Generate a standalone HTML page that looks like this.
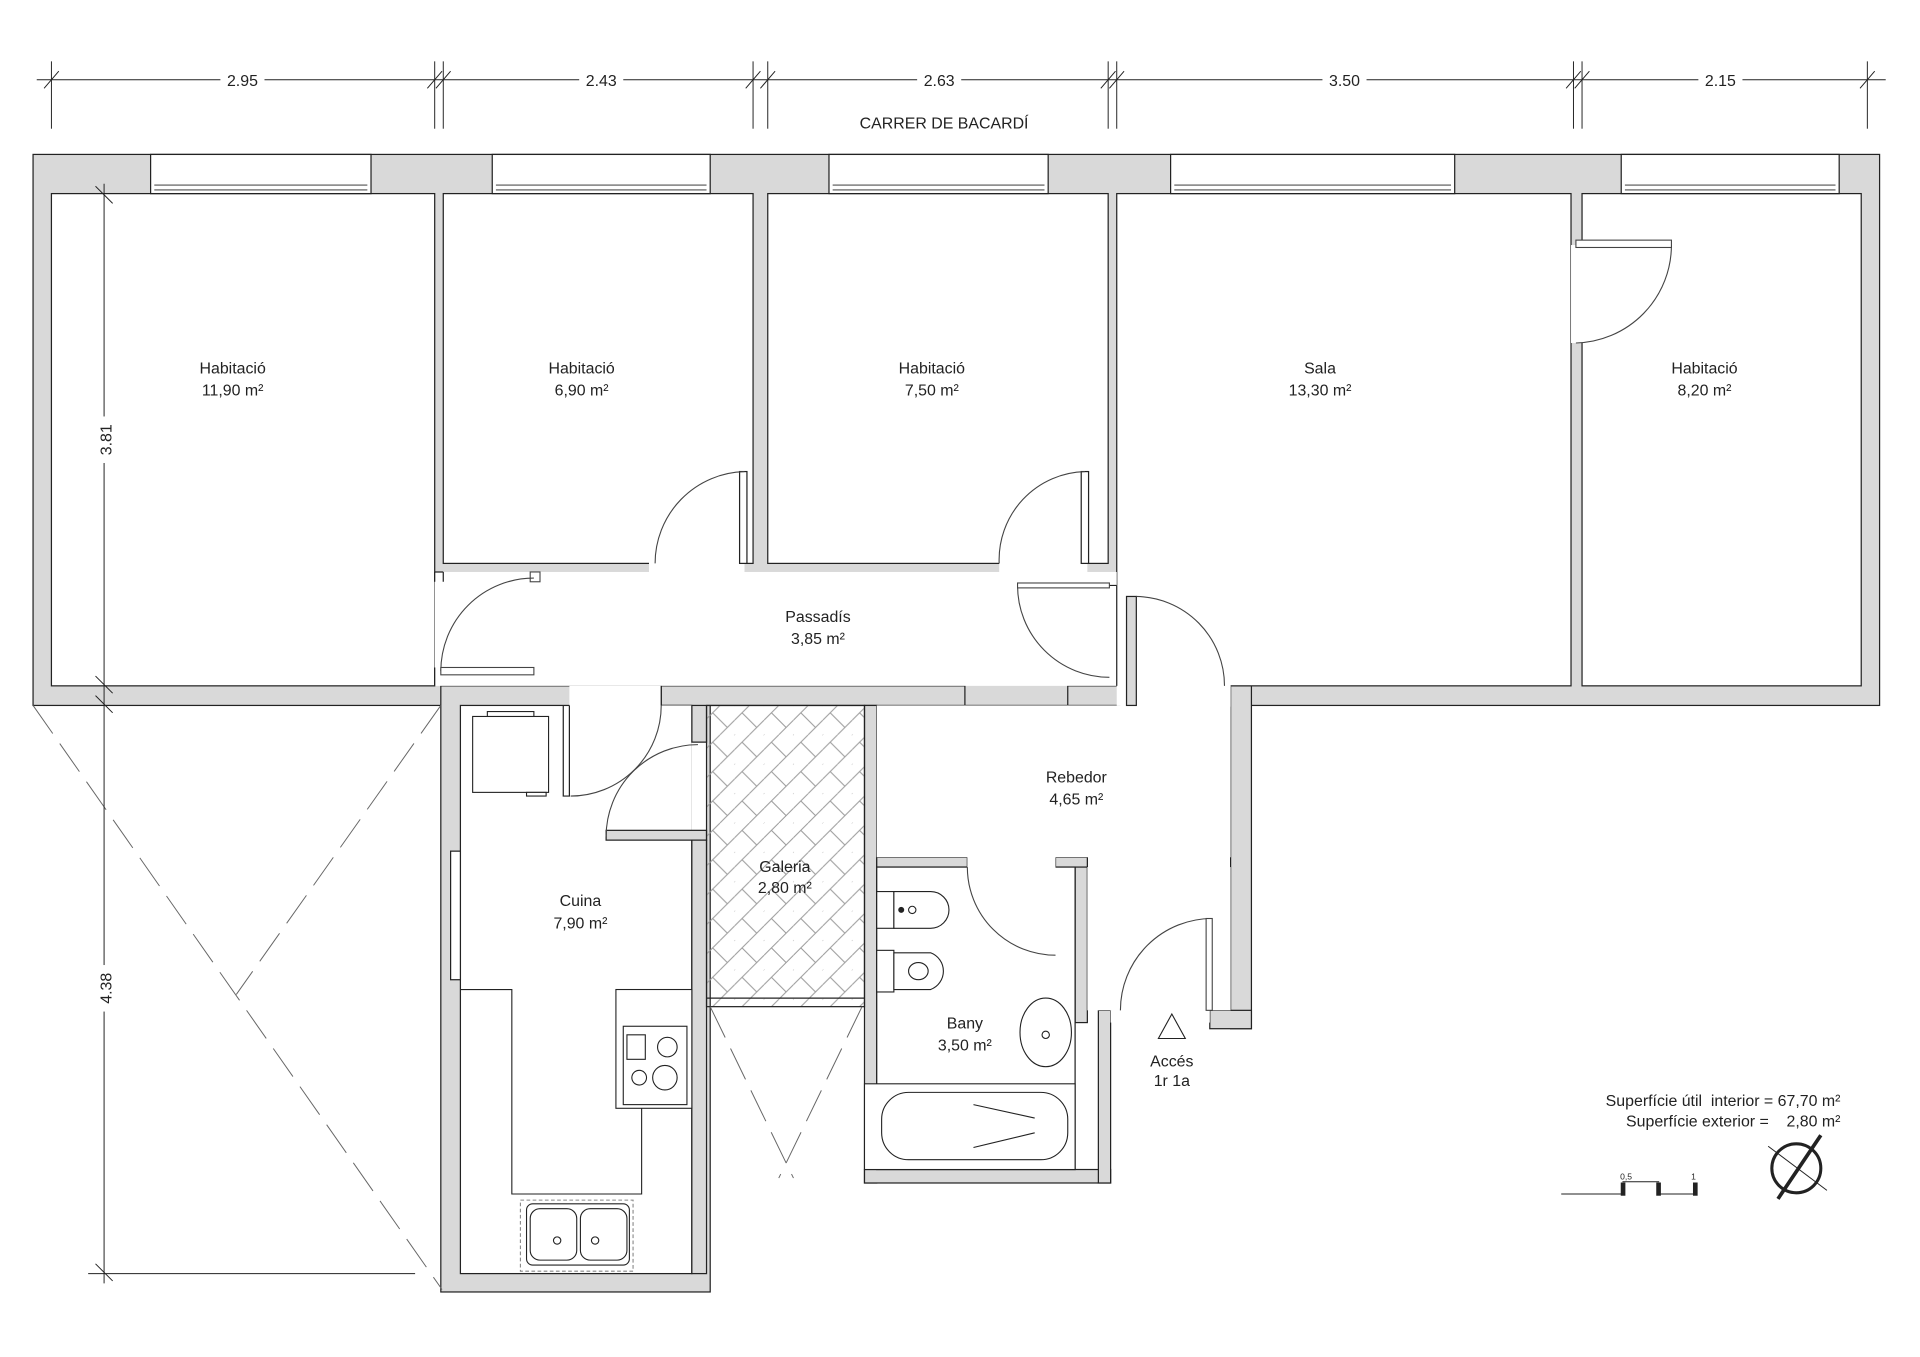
<!DOCTYPE html>
<html><head><meta charset="utf-8"><style>
html,body{margin:0;padding:0;background:#fff}
svg{display:block}
text{font-family:"Liberation Sans",sans-serif;fill:#222}
</style></head><body>
<svg width="1920" height="1357" viewBox="0 0 1568 1108" xmlns="http://www.w3.org/2000/svg">
<defs>
<pattern id="hb" width="24" height="24" patternUnits="userSpaceOnUse">
<path d="M0 12 L12 0 M12 24 L24 12 M6 6 L18 18 M-6 18 L6 30 M18 -6 L30 6" stroke="#999" stroke-width="0.8" fill="none"/>
</pattern>
</defs>
<g stroke="#222" stroke-width="1" font-size="13">
<line x1="30" y1="65" x2="1540" y2="65" stroke-width="0.8"/>
<g stroke-width="0.8">
<line x1="42" y1="50" x2="42" y2="105"/><line x1="355" y1="50" x2="355" y2="105"/><line x1="362" y1="50" x2="362" y2="105"/>
<line x1="615" y1="50" x2="615" y2="105"/><line x1="627" y1="50" x2="627" y2="105"/><line x1="905" y1="50" x2="905" y2="105"/>
<line x1="912" y1="50" x2="912" y2="105"/><line x1="1285" y1="50" x2="1285" y2="105"/><line x1="1292" y1="50" x2="1292" y2="105"/><line x1="1525" y1="50" x2="1525" y2="105"/>
<path d="M36 72 L48 58 M349 72 L361 58 M356 72 L368 58 M609 72 L621 58 M621 72 L633 58 M899 72 L911 58 M906 72 L918 58 M1279 72 L1291 58 M1286 72 L1298 58 M1519 72 L1531 58"/>
</g>
</g>
<g font-size="13" text-anchor="middle">
<rect x="180" y="58" width="36" height="14" fill="#fff"/><text x="198" y="70">2.95</text>
<rect x="473" y="58" width="36" height="14" fill="#fff"/><text x="491" y="70">2.43</text>
<rect x="749" y="58" width="36" height="14" fill="#fff"/><text x="767" y="70">2.63</text>
<rect x="1080" y="58" width="36" height="14" fill="#fff"/><text x="1098" y="70">3.50</text>
<rect x="1387" y="58" width="36" height="14" fill="#fff"/><text x="1405" y="70">2.15</text>
<text x="771" y="105">CARRER DE BACARDÍ</text>
</g>
<g fill="#d9d9d9" stroke="#222" stroke-width="1">
<rect x="27" y="126" width="1508" height="450"/>
<rect x="360" y="560" width="220" height="495"/>
<rect x="540" y="560" width="248" height="16"/>
<rect x="706" y="576" width="10" height="390"/>
<rect x="706" y="955" width="201" height="11"/>
<rect x="878" y="700" width="10" height="135"/>
<rect x="897" y="825" width="10" height="141"/>
<rect x="1005" y="560" width="17" height="280"/>
<rect x="988" y="825" width="34" height="15"/>
<rect x="716" y="700" width="74" height="8"/>
<rect x="862" y="700" width="26" height="8"/>
<rect x="872" y="560" width="48" height="16"/>
</g>
<g fill="#fff" stroke="#222" stroke-width="1">
<rect x="42" y="158" width="313" height="402"/>
<rect x="362" y="158" width="253" height="302"/>
<rect x="627" y="158" width="278" height="302"/>
<rect x="912" y="158" width="371" height="402"/>
<rect x="1292" y="158" width="228" height="402"/>
<rect x="376" y="576" width="189" height="464"/>
<rect x="716" y="708" width="162" height="247"/>
</g>
<g fill="#fff" stroke="none">
<rect x="355" y="467" width="557" height="93"/>
<rect x="355" y="475" width="8" height="70"/>
<rect x="912" y="478" width="93" height="98"/>
<rect x="465" y="560" width="75" height="17"/>
<rect x="466" y="576" width="99" height="102"/>
<rect x="565" y="606" width="12" height="72"/>
<rect x="716" y="576" width="289" height="124"/>
<rect x="790" y="699" width="72" height="10"/>
<rect x="888" y="708" width="117" height="117"/>
<rect x="907" y="825" width="81" height="10"/>
<rect x="1283" y="200" width="10" height="80"/>
<rect x="530" y="459" width="78" height="9"/>
<rect x="816" y="459" width="72" height="9"/>
<rect x="915" y="560" width="90" height="17"/>
</g>
<g stroke="#222" stroke-width="1" fill="none">
<path d="M355 467 H362 M355 467 V475 M355 545 V560 M362 467 V475"/>
<path d="M465 576 V650 H460 V576 M540 560 V576 M565 576 V606 H577 V576"/>
<rect x="495" y="678" width="82" height="8" fill="#d9d9d9"/>
<rect x="565" y="686" width="12" height="354" fill="#d9d9d9"/>
<path d="M912 478 V560 M905 478 H912"/>
<rect x="920" y="487" width="8" height="89" fill="#d9d9d9"/>
<rect x="604" y="385" width="6" height="75" fill="#fff"/>
<rect x="883" y="385" width="6" height="75" fill="#fff"/>
</g>
<g fill="#fff" stroke="#222" stroke-width="1">
<rect x="123" y="126" width="180" height="32"/><rect x="402" y="126" width="178" height="32"/>
<rect x="677" y="126" width="179" height="32"/><rect x="956" y="126" width="232" height="32"/>
<rect x="1324" y="126" width="178" height="32"/>
<path d="M126 151 H300 M126 155 H300 M405 151 H577 M405 155 H577 M680 151 H853 M680 155 H853 M959 151 H1185 M959 155 H1185 M1327 151 H1499 M1327 155 H1499" stroke-width="0.7"/>
<rect x="368" y="695" width="8" height="105"/>
</g>
<rect x="577" y="576" width="129" height="246" fill="url(#hb)" stroke="#222"/>
<line x1="577" y1="815" x2="706" y2="815" stroke="#222"/>
<g stroke="#444" stroke-width="0.9" fill="none">
<path d="M608 385 A75 75 0 0 0 535 460"/>
<path d="M886 385 A72 72 0 0 0 816 460"/>
<path d="M360 548 A76 76 0 0 1 436 472"/><rect x="360" y="545" width="76" height="6" fill="#fff"/><rect x="433" y="467" width="8" height="8"/>
<path d="M831 478 A75 75 0 0 0 906 553"/><rect x="831" y="476" width="75" height="4" fill="#fff"/>
<path d="M928 487 A73 73 0 0 1 1000 560"/>
<path d="M1365 200 A80 80 0 0 1 1287 280"/><rect x="1287" y="196" width="78" height="6" fill="#fff"/>
<path d="M466 650 A74 74 0 0 0 540 576"/>
<path d="M495 683 A75 75 0 0 1 570 608"/>
<path d="M790 708 A72 72 0 0 0 862 780"/>
<path d="M990 750 A75 75 0 0 0 915 825"/>
<rect x="985" y="750" width="5" height="75" fill="#fff"/>
</g>
<g stroke="#666" stroke-width="0.8" stroke-dasharray="28 10" fill="none">
<line x1="27" y1="576" x2="361" y2="1053"/><line x1="360" y1="576" x2="193" y2="812"/>
<line x1="580" y1="822" x2="648" y2="962"/><line x1="704" y1="822" x2="636" y2="962"/>
</g>
<line x1="72" y1="1040" x2="339" y2="1040" stroke="#222" stroke-width="0.8"/>
<g stroke="#222" stroke-width="0.8">
<line x1="85" y1="150" x2="85" y2="1048"/>
<path d="M78 152 L92 166 M78 552 L92 566 M78 568 L92 582 M78 1032 L92 1046"/>
</g>
<rect x="78" y="340" width="14" height="38" fill="#fff"/>
<text transform="translate(91 359) rotate(-90)" font-size="13" text-anchor="middle">3.81</text>
<rect x="78" y="788" width="14" height="38" fill="#fff"/>
<text transform="translate(91 807) rotate(-90)" font-size="13" text-anchor="middle">4.38</text>
<g stroke="#222" stroke-width="0.9" fill="#fff">
<rect x="386" y="585" width="62" height="62"/><rect x="398" y="581" width="38" height="4"/><rect x="430" y="647" width="16" height="3"/>
<path d="M376 808 H418 V975 H524 V808 H565" fill="none"/>
<rect x="503" y="808" width="62" height="97"/>
<rect x="509" y="838" width="52" height="64"/>
<rect x="512" y="845" width="15" height="20"/><circle cx="545" cy="855" r="8"/>
<circle cx="522" cy="880" r="6"/><circle cx="543" cy="880" r="10"/>
<rect x="425" y="980" width="92" height="58" fill="none" stroke-dasharray="3 2" stroke="#888"/>
<rect x="430" y="983" width="84" height="50" rx="5"/>
<rect x="433" y="987" width="38" height="42" rx="8"/><rect x="474" y="987" width="38" height="42" rx="8"/>
<circle cx="455" cy="1013" r="3"/><circle cx="486" cy="1013" r="3"/>
</g>
<g stroke="#222" stroke-width="0.9" fill="#fff">
<rect x="716" y="728" width="14" height="30"/><path d="M730 728 H760 A15 15 0 0 1 760 758 H730 Z"/>
<circle cx="736" cy="743" r="2" fill="#222"/><circle cx="745" cy="743" r="3"/>
<rect x="716" y="776" width="14" height="34"/><path d="M730 778 H760 A16 16 0 0 1 760 808 H730 Z"/><ellipse cx="750" cy="793" rx="8" ry="7"/>
<ellipse cx="854" cy="843" rx="21" ry="28"/><circle cx="854" cy="845" r="3"/>
<rect x="706" y="885" width="172" height="70"/>
<rect x="720" y="892" width="152" height="55" rx="22"/>
<path d="M795 902 L845 913 M795 937 L845 925" fill="none"/>
<path d="M946 848 L957 828 L968 848 Z" fill="#fff"/>
</g>
<g font-size="13" text-anchor="middle">
<text x="190" y="305">Habitació</text><text x="190" y="323">11,90 m²</text>
<text x="475" y="305">Habitació</text><text x="475" y="323">6,90 m²</text>
<text x="761" y="305">Habitació</text><text x="761" y="323">7,50 m²</text>
<text x="1078" y="305">Sala</text><text x="1078" y="323">13,30 m²</text>
<text x="1392" y="305">Habitació</text><text x="1392" y="323">8,20 m²</text>
<text x="668" y="508">Passadís</text><text x="668" y="526">3,85 m²</text>
<text x="879" y="639">Rebedor</text><text x="879" y="657">4,65 m²</text>
<text x="641" y="712">Galeria</text><text x="641" y="729">2,80 m²</text>
<text x="474" y="740">Cuina</text><text x="474" y="758">7,90 m²</text>
<text x="788" y="840">Bany</text><text x="788" y="858">3,50 m²</text>
<text x="957" y="871">Accés</text><text x="957" y="887">1r 1a</text>
</g>
<g font-size="13" text-anchor="end">
<text x="1503" y="903" xml:space="preserve">Superfície útil  interior = 67,70 m²</text>
<text x="1503" y="920" xml:space="preserve">Superfície exterior =    2,80 m²</text>
</g>
<g stroke="#222" stroke-width="0.8" fill="#222">
<path d="M1275 975 H1325 M1325 965 H1355 M1355 975 H1385" fill="none"/>
<rect x="1324" y="966" width="3" height="10"/><rect x="1353" y="966" width="3" height="10"/><rect x="1383" y="966" width="3" height="10"/>
</g>
<text x="1328" y="963" font-size="7" text-anchor="middle">0,5</text>
<text x="1383" y="963" font-size="7" text-anchor="middle">1</text>
<g stroke="#222" fill="none">
<circle cx="1467" cy="954" r="20" stroke-width="2.5"/>
<line x1="1444" y1="936" x2="1492" y2="972" stroke-width="0.8"/>
<line x1="1487" y1="927" x2="1452" y2="979" stroke-width="3"/>
</g>
</svg>
</body></html>
